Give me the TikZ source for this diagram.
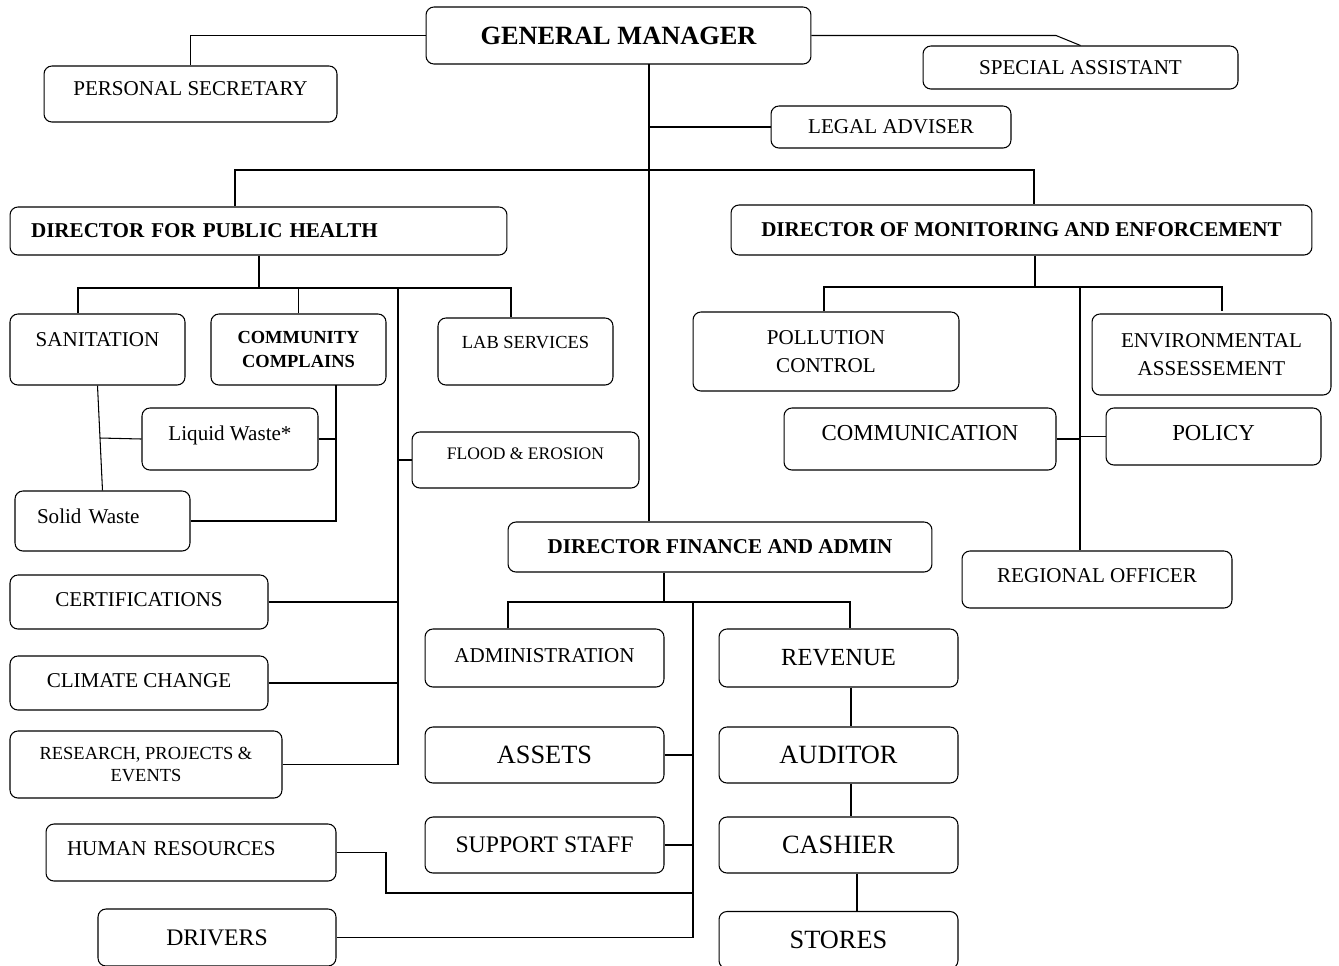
\documentclass[tikz,border=0pt]{standalone}
\usepackage{fontspec}
\setmainfont{Liberation Serif}
\usetikzlibrary{calc}
\begin{document}
\begin{tikzpicture}[x=0.02cm, y=-0.02cm, line width=0.6pt,
            every node/.style = {draw, rounded corners=4.5pt, align=center, inner sep=0pt,
                                 font=\fontsize{12}{16}\selectfont},
            bx/.style 2 args = {minimum width=#1cm, minimum height=#2cm},
            lift/.style = {text depth=#1pt},
            sz/.style = {font=\fontsize{#1}{#1}\selectfont},
            bold/.style = {font=\fontsize{#1}{#1}\selectfont\bfseries},
            lefttext/.style = {text width=#1cm, align=left}]
            \useasboundingbox (0,0) rectangle (1339,965);
            \node[bx={7.70}{1.14}, bold=15] (gm) at (618.5,35.5) {GENERAL MANAGER};
            \node[bx={5.86}{1.12}, lift=5.7] (psec) at (190.5,94) {PERSONAL SECRETARY};
            \node[bx={6.30}{0.86}] (sasst) at (1080.5,67.5) {SPECIAL ASSISTANT};
            \node[bx={4.80}{0.84}] (legal) at (891,127) {LEGAL ADVISER};
            \node[bx={9.94}{0.96}, bold=12, lefttext=9.1] (dph) at (258.5,231) {DIRECTOR FOR PUBLIC HEALTH};
            \node[bx={11.62}{1.00}, bold=12] (dme) at (1021.5,230) {DIRECTOR OF MONITORING AND ENFORCEMENT};
            \node[bx={8.48}{1.00}, bold=12] (dfa) at (720,547) {DIRECTOR FINANCE AND ADMIN};

            \node[bx={3.50}{1.42}, lift=11.4] (sanit) at (97.5,349.5) {SANITATION};
            \node[bx={3.50}{1.42}, font=\fontsize{10.5}{13.5}\selectfont\bfseries] (compl) at (298.5,349.5) {COMMUNITY\\COMPLAINS};
            \node[bx={3.50}{1.34}, sz=10.5, lift=10.8] (lab) at (525.5,351.5) {LAB SERVICES};
            \node[bx={3.52}{1.24}, lift=6.8] (liquid) at (230,439) {Liquid Waste*};
            \node[bx={3.50}{1.20}, lift=5.7, lefttext=2.62] (solid) at (102.5,521) {Solid Waste};
            \node[bx={4.54}{1.12}, sz=10, lift=6.8] (flood) at (525.5,460) {FLOOD \& EROSION};
            \node[bx={5.16}{1.08}, lift=3.4] (cert) at (139,602) {CERTIFICATIONS};
            \node[bx={5.16}{1.08}, lift=3.4] (climate) at (139,683) {CLIMATE CHANGE};
            \node[bx={5.44}{1.34}, font=\fontsize{10.5}{13}\selectfont] (research) at (146,764.5) {RESEARCH, PROJECTS \&\\EVENTS};
            \node[bx={5.80}{1.14}, lift=4.6, lefttext=4.96] (hr) at (191,852.5) {HUMAN RESOURCES};
            \node[bx={4.76}{1.14}, sz=13.5] (drivers) at (217,937.5) {DRIVERS};

            \node[bx={4.78}{1.16}, lift=3.4] (admin) at (544.5,658) {ADMINISTRATION};
            \node[bx={4.78}{1.16}, sz=14] (revenue) at (838.5,658) {REVENUE};
            \node[bx={4.78}{1.12}, sz=15] (assets) at (544.5,755) {ASSETS};
            \node[bx={4.78}{1.12}, sz=15] (auditor) at (838.5,755) {AUDITOR};
            \node[bx={4.78}{1.12}, sz=13.5] (support) at (544.5,845) {SUPPORT STAFF};
            \node[bx={4.78}{1.12}, sz=15] (cashier) at (838.5,845) {CASHIER};
            \node[bx={4.78}{1.14}, sz=15] (stores) at (838.5,940) {STORES};

            \node[bx={5.32}{1.58}] (pollution) at (826,351.5) {POLLUTION\\CONTROL};
            \node[bx={4.78}{1.62}] (envass) at (1211.5,354.5) {ENVIRONMENTAL\\ASSESSEMENT};
            \node[bx={5.44}{1.24}, sz=13, lift=6.8] (commun) at (920,439) {COMMUNICATION};
            \node[bx={4.30}{1.14}, sz=13, lift=4] (policy) at (1213.5,436.5) {POLICY};
            \node[bx={5.40}{1.14}, lift=5.1] (regional) at (1097,579.5) {REGIONAL OFFICER};

            \coordinate (sabend) at (1056,35.5);
            \coordinate (trunk) at (649,64);
            \coordinate (topl) at (235,170);
            \coordinate (topr) at (1034,170);
            \draw (gm.west) -| (psec.north);
            \draw (gm.east) -- (sabend) -- (sasst.north);
            \draw (trunk) -- (trunk |- dfa.north);
            \draw (legal.west) -- (legal.west -| trunk);
            \draw (dph.north -| topl) -- (topl) -- (topr) -- (dme.north -| topr);

            \coordinate (phjoin) at (259,288);
            \coordinate (phl) at (78,288);
            \coordinate (phr) at (511,288);
            \coordinate (phv) at (398,288);
            \coordinate (cmx) at (336,385);
            \draw[line width=1.2pt] (dph.south -| phjoin) -- (phjoin);
            \draw (sanit.north -| phl) -- (phl) -- (phr) -- (lab.north -| phr);
            \draw (compl.north) -- (compl.north |- phl);
            \draw (phv) -- (research.east -| phv) -- (research.east);
            \draw (flood.west) -- (flood.west -| phv);
            \draw (cert.east) -- (cert.east -| phv);
            \draw (climate.east) -- (climate.east -| phv);
            \draw (sanit.south) -- (solid.north);
            \draw (liquid.west) -- ($(sanit.south)!0.5!(solid.north)$);
            \draw (cmx) -- (solid.east -| cmx) -- (solid.east);
            \draw (liquid.east) -- (liquid.east -| cmx);

            \coordinate (fajoin) at (664,602);
            \coordinate (fal) at (508,602);
            \coordinate (far) at (850,602);
            \coordinate (finv) at (693,602);
            \coordinate (hrbend) at (386,893);
            \coordinate (revx) at (851,0);
            \coordinate (stx) at (857,0);
            \draw (dfa.south -| fajoin) -- (fajoin);
            \draw (admin.north -| fal) -- (fal) -- (far) -- (revenue.north -| far);
            \draw (finv) -- (drivers.east -| finv) -- (drivers.east);
            \draw (assets.east) -- (assets.east -| finv);
            \draw (support.east) -- (support.east -| finv);
            \draw (hr.east) -| (hrbend) -- (hrbend -| finv);
            \draw (revenue.south -| revx) -- (auditor.north -| revx);
            \draw (auditor.south -| revx) -- (cashier.north -| revx);
            \draw (cashier.south -| stx) -- (stores.north -| stx);

            \coordinate (mejoin) at (1035,287);
            \coordinate (mel) at (824,287);
            \coordinate (mer) at (1222,287);
            \coordinate (merend) at (1222,311);
            \coordinate (mev) at (1080,287);
            \draw (dme.south -| mejoin) -- (mejoin);
            \draw (pollution.north -| mel) -- (mel) -- (mer) -- (merend);
            \draw (mev) -- (regional.north -| mev);
            \draw (commun.east) -- (commun.east -| mev);
            \draw (policy.west) -- (policy.west -| mev);
\end{tikzpicture}
\end{document}
